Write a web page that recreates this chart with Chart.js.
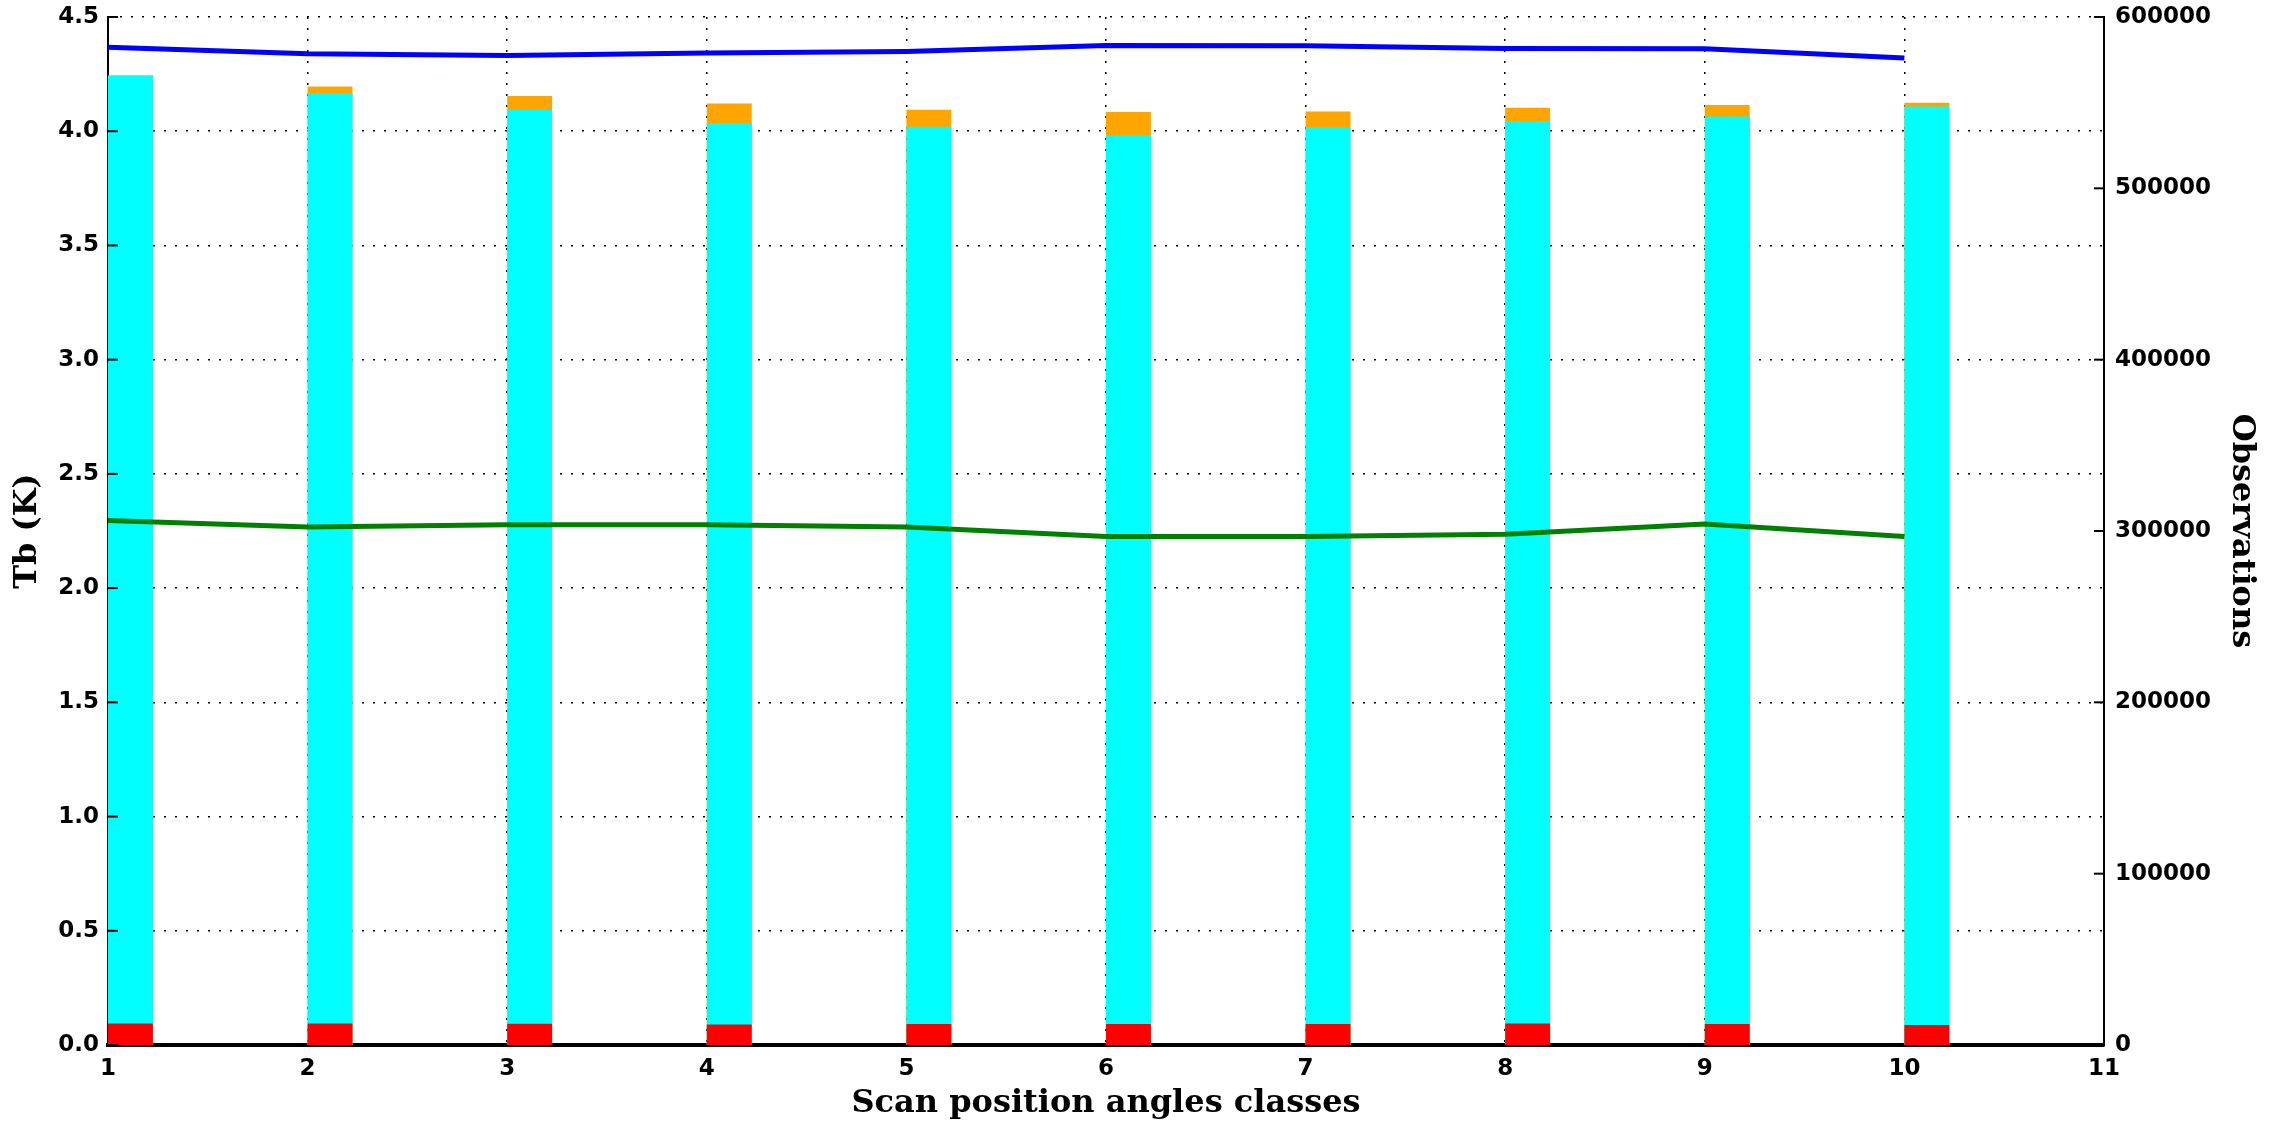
<!DOCTYPE html>
<html>
<head>
<meta charset="utf-8">
<script src="https://cdn.jsdelivr.net/npm/chart.js@4.4.1/dist/chart.umd.min.js"></script>
<style>
  body { margin: 0; background: #fff; }
  #wrap { width: 2279px; height: 1127px; }
</style>
</head>
<body>
<div id="wrap"><canvas id="chart" width="2279" height="1127"></canvas></div>
<script>
// scan position classes
const classes = [1, 2, 3, 4, 5, 6, 7, 8, 9, 10]

// Tb (K), left axis
const tbBlue = [4.368, 4.339, 4.331, 4.342, 4.349, 4.375, 4.374, 4.362, 4.361, 4.320]
const tbGreen = [2.296, 2.267, 2.277, 2.277, 2.267, 2.226, 2.226, 2.236, 2.281, 2.226]

// observations, right axis (bar tops)
const obsOrange = [565800, 559400, 553900, 549500, 545800, 544600, 544800, 547100, 548700, 550000]
const obsCyan = [565800, 555500, 545900, 538200, 536000, 530800, 535800, 539100, 541900, 547700]
const obsRed = [12500, 12600, 12400, 11900, 12300, 12200, 12300, 12500, 12300, 11700]

const barWidth = 0.225   // bars start at the class tick

const xAxisTitle = 'Scan position angles classes'
const yAxisTitle = 'Tb (K)'
const y1AxisTitle = 'Observations'

const tickFont = { family: 'DejaVu Sans', weight: 'bold', size: 23 }
const titleFont = { family: 'DejaVu Serif', weight: 'bold', size: 32 }

const barPoints = (vals) => classes.map((c, i) => ({ x: c + barWidth / 2, y: vals[i] }))
const linePoints = (vals) => classes.map((c, i) => ({ x: c, y: vals[i] }))

const barDataset = (vals, color, order) => ({
  type: 'bar',
  data: barPoints(vals),
  backgroundColor: color,
  yAxisID: 'y1',
  grouped: false,
  barPercentage: barWidth,
  categoryPercentage: 1,
  borderWidth: 0,
  order: order
})

const lineDataset = (vals, color) => ({
  type: 'line',
  data: linePoints(vals),
  borderColor: color,
  borderWidth: 5,
  pointRadius: 0,
  fill: false,
  tension: 0,
  yAxisID: 'y',
  order: 0
})

// short inward tick marks like the original
const innerTicks = {
  id: 'innerTicks',
  afterDraw(chart) {
    const ctx = chart.ctx
    const { y, y1 } = chart.scales
    ctx.save()
    ctx.strokeStyle = '#000'
    ctx.lineWidth = 2
    y.ticks.forEach(t => {
      const py = y.getPixelForValue(t.value)
      ctx.beginPath()
      ctx.moveTo(y.right, py)
      ctx.lineTo(y.right + 10, py)
      ctx.stroke()
    })
    y1.ticks.forEach(t => {
      const py = y1.getPixelForValue(t.value)
      ctx.beginPath()
      ctx.moveTo(y1.left, py)
      ctx.lineTo(y1.left - 10, py)
      ctx.stroke()
    })
    ctx.restore()
  }
}

// let the layout padding decide the top of the plot
const fitSide = (w) => (s) => {
  s.width = w
  s.paddingTop = 0
  s.paddingBottom = 0
}

new Chart(document.getElementById('chart'), {
  data: {
    datasets: [
      lineDataset(tbBlue, '#0000ff'),
      lineDataset(tbGreen, '#008000'),
      barDataset(obsRed, '#ff0000', 1),
      barDataset(obsCyan, '#00ffff', 2),
      barDataset(obsOrange, '#ffa500', 3)
    ]
  },
  options: {
    responsive: false,
    animation: false,
    devicePixelRatio: 1,
    layout: { padding: { top: 17, right: 0, left: 0, bottom: 0 } },
    plugins: { legend: { display: false }, tooltip: { enabled: false } },
    scales: {
      x: {
        type: 'linear',
        min: 1,
        max: 11,
        offset: false,
        z: 1,
        afterFit: (s) => { s.height = 82; s.paddingLeft = 0; s.paddingRight = 0 },
        ticks: { stepSize: 1, color: '#000', font: tickFont, padding: 10 },
        grid: { color: '#000', lineWidth: 1.5, drawTicks: false, offset: false },
        border: { display: true, color: '#000', width: 4, dash: [2, 9] },
        title: { display: true, text: xAxisTitle, color: '#000', font: titleFont, padding: { top: 0, bottom: 4 } }
      },
      y: {
        position: 'left',
        min: 0,
        max: 4.5,
        z: 1,
        afterFit: fitSide(108),
        ticks: { stepSize: 0.5, color: '#000', font: tickFont, padding: 9, callback: v => v.toFixed(1) },
        grid: { color: '#000', lineWidth: 1.5, drawTicks: false },
        border: { display: true, color: '#000', width: 2, dash: [2, 9] },
        title: { display: true, text: yAxisTitle, color: '#000', font: titleFont, padding: { top: 8, bottom: 0 } }
      },
      y1: {
        position: 'right',
        min: 0,
        max: 600000,
        afterFit: fitSide(175),
        ticks: { stepSize: 100000, color: '#000', font: tickFont, padding: 11, callback: v => String(v) },
        grid: { display: false, drawTicks: false },
        border: { display: true, color: '#000', width: 2 },
        title: { display: true, text: y1AxisTitle, color: '#000', font: titleFont, padding: { top: 18, bottom: 0 } }
      }
    }
  },
  plugins: [innerTicks]
})
</script>
</body>
</html>
